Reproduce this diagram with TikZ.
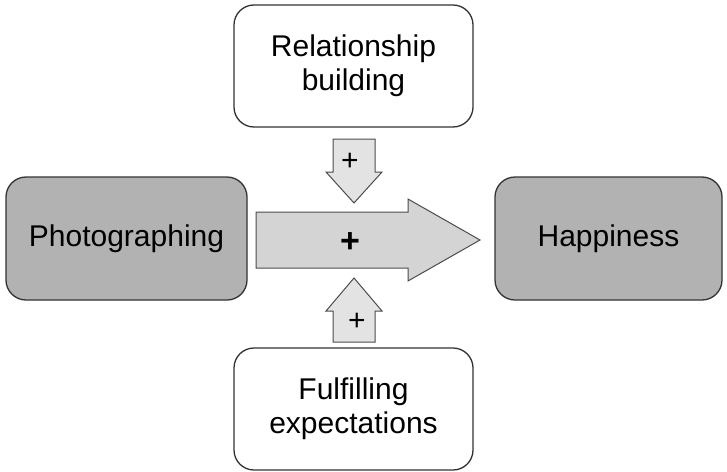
\documentclass[tikz,border=0pt]{standalone}
\usepackage{fontspec}
\setmainfont{Liberation Sans}
\begin{document}
\begin{tikzpicture}[x=1pt,y=-1pt,
  box/.style={draw=black!80, line width=1.3pt, rounded corners=20pt},
  whitebox/.style={box, fill=white},
  graybox/.style={box, fill=black!30},
  smallarrow/.style={draw=black!70, line width=1pt, fill=black!11, line join=miter},
  mainarrow/.style={draw=black!70, line width=1pt, fill=black!17, line join=miter},
  lbl/.style={font=\fontsize{30}{34}\selectfont, align=center},
  plus/.style={font=\fontsize{34}{34}\selectfont\bfseries},
  smallplus/.style={font=\fontsize{30}{30}\selectfont}]
\useasboundingbox (0,0) rectangle (727,471);
% boxes
\draw[whitebox] (234,5) rectangle (473,127);
\node[lbl] (rel) at (353.5,66) {Relationship\\building};
\draw[whitebox] (234,348) rectangle (473,470);
\node[lbl] (ful) at (353.5,409) {Fulfilling\\expectations};
\draw[graybox] (6,177) rectangle (247,300);
\node[lbl] (pho) at (126.5,238.5) {Photographing};
\draw[graybox] (495,177) rectangle (722,300);
\node[lbl] (hap) at (608.5,238.5) {Happiness};
% main arrow
\draw[mainarrow] (256,212) -- (408,212) -- (408,199) -- (480,240) -- (408,281) -- (408,268) -- (256,268) -- cycle;
\node[plus] (pm) at (350,243) {+};
% down arrow
\draw[smallarrow] (333,139) -- (375,139) -- (375,172) -- (382,172) -- (354,203) -- (326,172) -- (333,172) -- cycle;
\node[smallplus] (pd) at (350,162) {+};
% up arrow
\draw[smallarrow] (333,342) -- (375,342) -- (375,311) -- (382,311) -- (354,278) -- (326,311) -- (333,311) -- cycle;
\node[smallplus] (pu) at (357,322) {+};
\end{tikzpicture}
\end{document}
